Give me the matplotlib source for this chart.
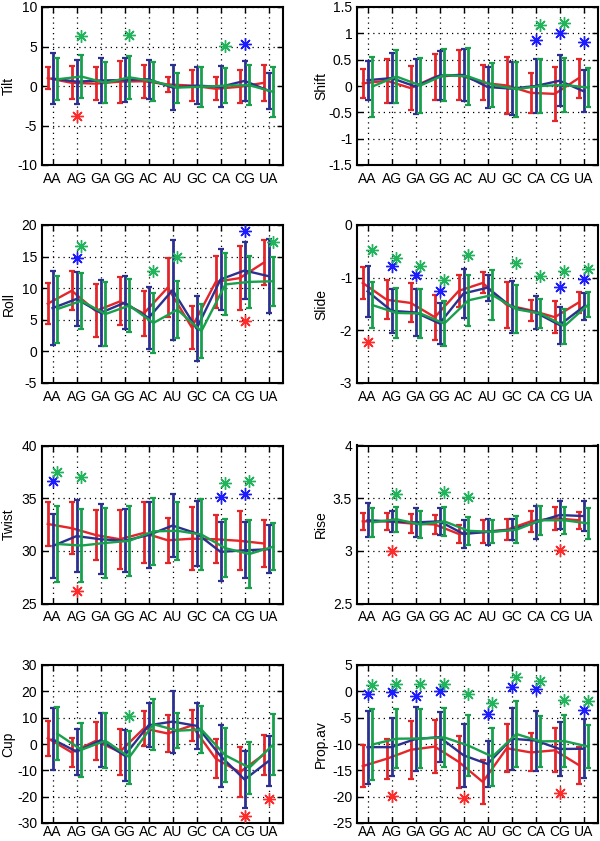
import numpy as np
import matplotlib
matplotlib.use('Agg')
import matplotlib.pyplot as plt
from matplotlib.ticker import FuncFormatter

plt.rcParams['font.family'] = ['Liberation Sans', 'DejaVu Sans']

CATS = ['AA', 'AG', 'GA', 'GG', 'AC', 'AU', 'GC', 'CA', 'CG', 'UA']

# ---------------- Tilt ----------------
TILT_RED_M = [1.0, 0.4, 0.3, 0.55, 0.6, 0.2, 0.05, -0.35, -0.1, 0.4]
TILT_RED_SD = [1.35, 2.1, 2.1, 2.65, 2.1, 0.9, 1.95, 1.45, 2.1, 2.3]
TILT_BLUE_M = [0.95, 0.55, 0.7, 0.75, 0.85, -0.2, 0.05, -0.1, 0.65, -0.6]
TILT_BLUE_SD = [3.2, 2.8, 2.9, 2.8, 2.5, 2.8, 2.3, 2.6, 2.5, 2.3]
TILT_GREEN_M = [0.85, 1.2, 0.4, 1.1, 0.6, -0.2, -0.1, 0.05, 0.1, -0.75]
TILT_GREEN_SD = [2.65, 2.7, 2.6, 2.75, 2.5, 1.9, 2.5, 2.2, 2.5, 3.15]
TILT_STAR_RED = {'AG': -3.8}
TILT_STAR_BLUE = {'CG': 5.3}
TILT_STAR_GREEN = {'AG': 6.3, 'GG': 6.5, 'CA': 5.1}

# ---------------- Shift ----------------
SHIFT_RED_M = [0.05, 0.1, -0.04, 0.17, 0.21, 0.06, 0.01, -0.13, -0.15, 0.15]
SHIFT_RED_SD = [0.28, 0.42, 0.42, 0.44, 0.47, 0.33, 0.54, 0.38, 0.51, 0.37]
SHIFT_BLUE_M = [0.11, 0.15, -0.01, 0.2, 0.21, -0.02, -0.05, 0.0, 0.1, -0.1]
SHIFT_BLUE_SD = [0.37, 0.48, 0.52, 0.46, 0.49, 0.39, 0.51, 0.51, 0.48, 0.4]
SHIFT_GREEN_M = [-0.01, 0.18, 0.01, 0.21, 0.18, 0.02, -0.06, 0.0, 0.02, -0.03]
SHIFT_GREEN_SD = [0.57, 0.5, 0.52, 0.49, 0.54, 0.41, 0.52, 0.51, 0.52, 0.37]
SHIFT_STAR_RED = {}
SHIFT_STAR_BLUE = {'CA': 0.88, 'CG': 1.0, 'UA': 0.83}
SHIFT_STAR_GREEN = {'CA': 1.15, 'CG': 1.2}

# ---------------- Roll ----------------
ROLL_RED_M = [7.55, 9.6, 6.4, 7.9, 6.0, 10.1, 3.8, 11.0, 11.6, 14.05]
ROLL_RED_SD = [3.2, 3.05, 4.2, 3.8, 3.5, 4.7, 3.4, 4.1, 5.1, 3.5]
ROLL_BLUE_M = [6.85, 8.3, 6.1, 7.7, 5.3, 9.7, 3.6, 11.4, 12.8, 11.9]
ROLL_BLUE_SD = [5.8, 4.3, 5.2, 4.2, 4.9, 7.9, 5.1, 4.8, 4.5, 5.9]
ROLL_GREEN_M = [6.7, 8.0, 5.9, 7.25, 4.5, 6.6, 3.2, 10.6, 11.0, 11.1]
ROLL_GREEN_SD = [5.3, 4.4, 5.1, 4.2, 4.7, 4.5, 4.3, 4.9, 4.1, 3.9]
ROLL_STAR_RED = {'CG': 4.8}
ROLL_STAR_BLUE = {'AG': 14.8, 'CG': 19.0}
ROLL_STAR_GREEN = {'AG': 16.6, 'AC': 12.7, 'AU': 15.0, 'UA': 17.3}

# ---------------- Slide ----------------
SLIDE_RED_M = [-1.1, -1.42, -1.48, -1.75, -1.25, -1.1, -1.52, -1.62, -1.75, -1.47]
SLIDE_RED_SD = [0.31, 0.37, 0.37, 0.43, 0.31, 0.2, 0.43, 0.2, 0.3, 0.2]
SLIDE_BLUE_M = [-1.26, -1.63, -1.66, -1.87, -1.3, -1.19, -1.56, -1.66, -1.9, -1.55]
SLIDE_BLUE_SD = [0.48, 0.42, 0.45, 0.38, 0.47, 0.25, 0.5, 0.32, 0.35, 0.26]
SLIDE_GREEN_M = [-1.52, -1.67, -1.68, -1.87, -1.43, -1.33, -1.6, -1.68, -1.92, -1.51]
SLIDE_GREEN_SD = [0.43, 0.47, 0.46, 0.42, 0.48, 0.48, 0.46, 0.27, 0.33, 0.23]
SLIDE_STAR_RED = {'AA': -2.22}
SLIDE_STAR_BLUE = {'AG': -0.78, 'GA': -0.95, 'GG': -1.25, 'CG': -1.17, 'UA': -1.02}
SLIDE_STAR_GREEN = {'AA': -0.48, 'AG': -0.62, 'GA': -0.78, 'GG': -1.05,
                    'AC': -0.57, 'GC': -0.72, 'CA': -0.97, 'CG': -0.87, 'UA': -0.83}

# ---------------- Twist ----------------
TWIST_RED_M = [32.55, 32.15, 31.5, 31.1, 31.7, 31.0, 31.15, 31.1, 30.95, 30.7]
TWIST_RED_SD = [2.1, 2.45, 2.4, 2.8, 2.9, 2.15, 3.0, 2.3, 2.8, 2.2]
TWIST_BLUE_M = [30.45, 31.4, 31.1, 30.95, 31.5, 32.4, 31.65, 29.9, 30.05, 30.15]
TWIST_BLUE_SD = [3.0, 3.4, 3.3, 3.0, 3.15, 3.0, 3.05, 2.8, 2.65, 2.3]
TWIST_GREEN_M = [30.65, 30.5, 30.75, 30.95, 31.85, 31.9, 31.55, 30.25, 29.7, 30.4]
TWIST_GREEN_SD = [3.6, 3.45, 3.35, 3.33, 3.2, 2.75, 3.33, 2.75, 3.2, 2.25]
TWIST_STAR_RED = {'AG': 26.2}
TWIST_STAR_BLUE = {'AA': 36.6, 'CA': 35.1, 'CG': 35.4}
TWIST_STAR_GREEN = {'AA': 37.5, 'AG': 37.0, 'CA': 36.4, 'CG': 36.6}

# ---------------- Rise ----------------
RISE_RED_M = [3.28, 3.28, 3.26, 3.25, 3.16, 3.18, 3.2, 3.28, 3.31, 3.29]
RISE_RED_SD = [0.08, 0.08, 0.09, 0.09, 0.09, 0.11, 0.1, 0.1, 0.11, 0.08]
RISE_BLUE_M = [3.29, 3.28, 3.27, 3.28, 3.16, 3.18, 3.2, 3.27, 3.34, 3.33]
RISE_BLUE_SD = [0.16, 0.1, 0.14, 0.13, 0.13, 0.12, 0.1, 0.16, 0.13, 0.14]
RISE_GREEN_M = [3.27, 3.3, 3.25, 3.28, 3.19, 3.18, 3.2, 3.29, 3.29, 3.26]
RISE_GREEN_SD = [0.14, 0.12, 0.13, 0.14, 0.13, 0.11, 0.13, 0.14, 0.13, 0.15]
RISE_STAR_RED = {'AG': 3.0, 'CG': 3.01}
RISE_STAR_BLUE = {}
RISE_STAR_GREEN = {'AG': 3.54, 'GG': 3.56, 'AC': 3.51}

# ---------------- Cup ----------------
CUP_RED_M = [2.2, -3.2, 1.2, -3.0, 5.9, 4.0, 7.0, -5.6, -10.7, -4.0]
CUP_RED_SD = [6.7, 5.65, 7.25, 8.6, 6.6, 7.0, 5.8, 7.4, 9.4, 7.6]
CUP_BLUE_M = [1.8, -2.9, 1.45, -4.4, 7.1, 8.5, 6.9, -4.6, -13.5, -6.5]
CUP_BLUE_SD = [11.8, 8.75, 10.2, 9.8, 8.35, 11.8, 8.85, 11.8, 10.8, 9.4]
CUP_GREEN_M = [3.9, -2.2, 1.25, -5.0, 7.5, 5.05, 5.5, -4.3, -9.0, -0.15]
CUP_GREEN_SD = [10.1, 10.3, 10.4, 10.1, 9.75, 6.6, 9.0, 10.3, 9.9, 11.55]
CUP_STAR_RED = {'CG': -27.5, 'UA': -21.0}
CUP_STAR_BLUE = {}
CUP_STAR_GREEN = {'GG': 10.8}

# ---------------- Prop.av ----------------
PROP_RED_M = [-14.2, -12.8, -11.1, -10.5, -13.4, -17.2, -10.8, -11.6, -11.2, -14.0]
PROP_RED_SD = [4.0, 3.8, 5.55, 5.0, 5.0, 4.2, 4.6, 3.6, 4.2, 3.5]
PROP_BLUE_M = [-10.6, -10.6, -9.05, -8.7, -12.15, -13.8, -9.0, -9.35, -10.95, -10.9]
PROP_BLUE_SD = [6.9, 5.55, 6.15, 4.8, 5.95, 4.4, 5.85, 5.7, 5.1, 5.6]
PROP_GREEN_M = [-10.1, -9.0, -8.95, -8.75, -10.3, -12.4, -8.1, -9.5, -9.45, -10.5]
PROP_GREEN_SD = [6.7, 5.6, 5.6, 5.65, 5.85, 5.5, 6.2, 4.85, 4.95, 4.1]
PROP_STAR_RED = {'AG': -19.8, 'AC': -20.2, 'CG': -19.3}
PROP_STAR_BLUE = {'AA': -0.6, 'AG': -0.2, 'GA': -0.8, 'GG': 0.0, 'AU': -4.3,
                  'GC': 0.9, 'CA': 0.5, 'UA': -3.6}
PROP_STAR_GREEN = {'AA': 1.2, 'AG': 1.4, 'GA': 1.3, 'GG': 1.3, 'AC': -0.6,
                   'AU': -2.3, 'GC': 2.7, 'CA': 1.9, 'CG': -1.6, 'UA': -1.9}

PANELS = [
    ('Tilt', (-10, 10), np.arange(-10, 10.1, 5),
     (TILT_RED_M, TILT_RED_SD), (TILT_BLUE_M, TILT_BLUE_SD), (TILT_GREEN_M, TILT_GREEN_SD),
     (TILT_STAR_RED, TILT_STAR_BLUE, TILT_STAR_GREEN)),
    ('Shift', (-1.5, 1.5), np.arange(-1.5, 1.51, 0.5),
     (SHIFT_RED_M, SHIFT_RED_SD), (SHIFT_BLUE_M, SHIFT_BLUE_SD), (SHIFT_GREEN_M, SHIFT_GREEN_SD),
     (SHIFT_STAR_RED, SHIFT_STAR_BLUE, SHIFT_STAR_GREEN)),
    ('Roll', (-5, 20), np.arange(-5, 20.1, 5),
     (ROLL_RED_M, ROLL_RED_SD), (ROLL_BLUE_M, ROLL_BLUE_SD), (ROLL_GREEN_M, ROLL_GREEN_SD),
     (ROLL_STAR_RED, ROLL_STAR_BLUE, ROLL_STAR_GREEN)),
    ('Slide', (-3, 0), np.arange(-3, 0.1, 1),
     (SLIDE_RED_M, SLIDE_RED_SD), (SLIDE_BLUE_M, SLIDE_BLUE_SD), (SLIDE_GREEN_M, SLIDE_GREEN_SD),
     (SLIDE_STAR_RED, SLIDE_STAR_BLUE, SLIDE_STAR_GREEN)),
    ('Twist', (25, 40), np.arange(25, 40.1, 5),
     (TWIST_RED_M, TWIST_RED_SD), (TWIST_BLUE_M, TWIST_BLUE_SD), (TWIST_GREEN_M, TWIST_GREEN_SD),
     (TWIST_STAR_RED, TWIST_STAR_BLUE, TWIST_STAR_GREEN)),
    ('Rise', (2.5, 4), np.arange(2.5, 4.01, 0.5),
     (RISE_RED_M, RISE_RED_SD), (RISE_BLUE_M, RISE_BLUE_SD), (RISE_GREEN_M, RISE_GREEN_SD),
     (RISE_STAR_RED, RISE_STAR_BLUE, RISE_STAR_GREEN)),
    ('Cup', (-30, 30), np.arange(-30, 30.1, 10),
     (CUP_RED_M, CUP_RED_SD), (CUP_BLUE_M, CUP_BLUE_SD), (CUP_GREEN_M, CUP_GREEN_SD),
     (CUP_STAR_RED, CUP_STAR_BLUE, CUP_STAR_GREEN)),
    ('Prop.av', (-25, 5), np.arange(-25, 5.1, 5),
     (PROP_RED_M, PROP_RED_SD), (PROP_BLUE_M, PROP_BLUE_SD), (PROP_GREEN_M, PROP_GREEN_SD),
     (PROP_STAR_RED, PROP_STAR_BLUE, PROP_STAR_GREEN)),
]

LINE_COLORS = ['#e4262b', '#2c3190', '#18a04c']
STAR_COLORS = ['#ff2a2a', '#1c1cff', '#22b45c']
LINE_OFFSETS = [-0.2, 0.0, 0.2]
STAR_OFFSETS = [0.0, 0.0, 0.17]

W, H = 600, 841
fig = plt.figure(figsize=(W / 100, H / 100), dpi=100)

col_left = [42, 357]
label_x = [8.5, 321]
ax_w = 241
row_tops = [7, 225, 445.5, 665]
ax_h = 158

fmt = FuncFormatter(lambda v, p: ('%g' % round(v, 4)))

x = np.arange(1, len(CATS) + 1)
for i, (name, ylim, yticks, red, blue, green, stars) in enumerate(PANELS):
    r, c = divmod(i, 2)
    left = col_left[c] / W
    bottom = 1 - (row_tops[r] + ax_h) / H
    ax = fig.add_axes([left, bottom, ax_w / W, ax_h / H])
    for k, (m, sd) in enumerate([red, blue, green]):
        ax.errorbar(x + LINE_OFFSETS[k], m, yerr=sd, color=LINE_COLORS[k],
                    lw=1.7, elinewidth=2.0, capsize=2, capthick=1.6, zorder=3 + k)
    for k, sdict in enumerate(stars):
        if not sdict:
            continue
        sx = [CATS.index(cn) + 1 + STAR_OFFSETS[k] for cn in sdict]
        sy = list(sdict.values())
        ax.plot(sx, sy, linestyle='none', marker=(8, 2, 0), markersize=9,
                markeredgewidth=1.0, color=STAR_COLORS[k], zorder=7)
    ax.set_xlim(0.56, 10.6)
    ax.set_ylim(*ylim)
    ax.set_xticks(x)
    ax.set_xticklabels(CATS)
    ax.set_yticks(yticks)
    ax.yaxis.set_major_formatter(fmt)
    ax.grid(True, linestyle=(0, (1, 3.2)), color='black', linewidth=0.9)
    ax.set_axisbelow(True)
    ax.tick_params(direction='in', top=True, right=True, length=4, width=1,
                   labelsize=10, colors='black')
    ax.tick_params(axis='x', pad=1.5 if r == 3 else 5)
    for s in ax.spines.values():
        s.set_linewidth(1.5)
    ax.set_ylabel(name, fontsize=10, va='center', ha='center')
    ax.yaxis.set_label_coords((label_x[c] - col_left[c]) / ax_w, 0.5)

fig.savefig('out.png', dpi=100)
